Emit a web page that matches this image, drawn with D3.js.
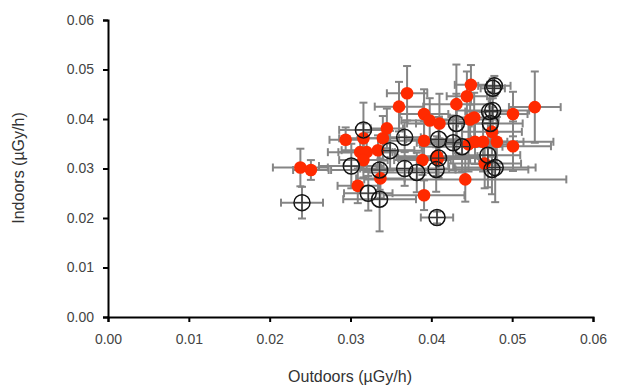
<!DOCTYPE html>
<html>
<head>
<meta charset="utf-8">
<script src="https://cdn.jsdelivr.net/npm/d3@7"></script>
<style>
  body { margin: 0; background: #fff; }
  svg text { font-family: "Liberation Sans", Arial, sans-serif; }
</style>
</head>
<body>
<div id="chart"></div>
<script>
// red series: outdoor, indoor, x error, y error
var redX    = [0.0238, 0.0251, 0.0294, 0.0309, 0.0316, 0.0312, 0.0320, 0.0316, 0.0334, 0.0337, 0.0340, 0.0345, 0.0360, 0.0370, 0.0391, 0.0398, 0.0410, 0.0391, 0.0407, 0.0408, 0.0389, 0.0391, 0.0431, 0.0444, 0.0449, 0.0448, 0.0453, 0.0442, 0.0446, 0.0454, 0.0464, 0.0466, 0.0475, 0.0481, 0.0501, 0.0501, 0.0528];
var redY    = [0.0302, 0.0297, 0.0358, 0.0265, 0.0361, 0.0333, 0.0333, 0.0317, 0.0337, 0.0280, 0.0361, 0.0381, 0.0425, 0.0452, 0.0410, 0.0397, 0.0391, 0.0356, 0.0325, 0.0319, 0.0317, 0.0246, 0.0430, 0.0446, 0.0469, 0.0399, 0.0403, 0.0278, 0.0349, 0.0354, 0.0354, 0.0310, 0.0374, 0.0354, 0.0410, 0.0345, 0.0424];
var redXErr = [0.0034, 0.0022, 0.0020, 0.0025, 0.0030, 0.0040, 0.0035, 0.0030, 0.0045, 0.0030, 0.0020, 0.0020, 0.0030, 0.0025, 0.0030, 0.0035, 0.0040, 0.0045, 0.0050, 0.0040, 0.0035, 0.0050, 0.0040, 0.0025, 0.0020, 0.0035, 0.0030, 0.0125, 0.0060, 0.0040, 0.0050, 0.0045, 0.0037, 0.0070, 0.0018, 0.0047, 0.0032];
var redYErr = [0.0038, 0.0020, 0.0025, 0.0035, 0.0030, 0.0030, 0.0040, 0.0035, 0.0030, 0.0040, 0.0045, 0.0040, 0.0050, 0.0055, 0.0050, 0.0045, 0.0060, 0.0040, 0.0040, 0.0035, 0.0030, 0.0030, 0.0080, 0.0050, 0.0040, 0.0045, 0.0050, 0.0045, 0.0055, 0.0045, 0.0060, 0.0050, 0.0050, 0.0050, 0.0045, 0.0050, 0.0072];

// open circle series
var blackX    = [0.0240, 0.0301, 0.0316, 0.0322, 0.0336, 0.0336, 0.0349, 0.0367, 0.0367, 0.0382, 0.0406, 0.0409, 0.0409, 0.0407, 0.0431, 0.0427, 0.0438, 0.0470, 0.0473, 0.0476, 0.0478, 0.0476, 0.0479, 0.0472, 0.0475];
var blackY    = [0.0231, 0.0305, 0.0378, 0.0250, 0.0238, 0.0297, 0.0336, 0.0363, 0.0300, 0.0292, 0.0298, 0.0359, 0.0321, 0.0201, 0.0391, 0.0352, 0.0344, 0.0327, 0.0391, 0.0417, 0.0467, 0.0462, 0.0302, 0.0415, 0.0298];
var blackXErr = [0.0026, 0.0040, 0.0030, 0.0030, 0.0045, 0.0060, 0.0040, 0.0020, 0.0055, 0.0060, 0.0070, 0.0040, 0.0050, 0.0020, 0.0050, 0.0045, 0.0050, 0.0040, 0.0040, 0.0045, 0.0020, 0.0015, 0.0050, 0.0030, 0.0045];
var blackYErr = [0.0032, 0.0045, 0.0055, 0.0035, 0.0065, 0.0040, 0.0040, 0.0030, 0.0035, 0.0040, 0.0045, 0.0045, 0.0040, 0.0012, 0.0060, 0.0055, 0.0050, 0.0065, 0.0050, 0.0050, 0.0020, 0.0020, 0.0070, 0.0040, 0.0050];

var xTicks = [0, 0.01, 0.02, 0.03, 0.04, 0.05, 0.06];
var yTicks = [0, 0.01, 0.02, 0.03, 0.04, 0.05, 0.06];

var width = 621, height = 386;
var x = d3.scaleLinear().domain([0, 0.06]).range([108, 593]);
var y = d3.scaleLinear().domain([0, 0.06]).range([317, 20]);

var svg = d3.select('#chart').append('svg')
    .attr('width', width)
    .attr('height', height);

function toRows(xs, ys, xe, ye) {
    return xs.map(function (v, i) { return { x: v, y: ys[i], xe: xe[i], ye: ye[i] }; });
}
var red = toRows(redX, redY, redXErr, redYErr);
var black = toRows(blackX, blackY, blackXErr, blackYErr);

// error bars
var cap = 4;
function drawErrors(g, rows) {
    rows.forEach(function (d) {
        var cx = x(d.x), cy = y(d.y);
        var x0 = x(d.x - d.xe), x1 = x(d.x + d.xe);
        var y0 = y(d.y - d.ye), y1 = y(d.y + d.ye);
        var segs = [
            [x0, cy, x1, cy], [cx, y0, cx, y1],
            [x0, cy - cap, x0, cy + cap], [x1, cy - cap, x1, cy + cap],
            [cx - cap, y0, cx + cap, y0], [cx - cap, y1, cx + cap, y1]
        ];
        segs.forEach(function (s) {
            g.append('line')
                .attr('x1', s[0]).attr('y1', s[1])
                .attr('x2', s[2]).attr('y2', s[3]);
        });
    });
}
var errG = svg.append('g')
    .attr('stroke', '#858585')
    .attr('stroke-width', 2);
drawErrors(errG, black);
drawErrors(errG, red);

// axes
var xAxis = svg.append('g')
    .attr('transform', 'translate(0,317)')
    .call(d3.axisBottom(x).tickValues(xTicks).tickFormat(d3.format('.2f')).tickSize(5).tickPadding(12));
var yAxis = svg.append('g')
    .attr('transform', 'translate(108,0)')
    .call(d3.axisLeft(y).tickValues(yTicks).tickFormat(d3.format('.2f')).tickSize(5).tickPadding(9));
[xAxis, yAxis].forEach(function (a) {
    a.select('.domain').attr('stroke', '#000').attr('stroke-width', 2);
    a.selectAll('.tick line').attr('stroke', '#000').attr('stroke-width', 2);
    a.selectAll('.tick text').attr('fill', '#444').attr('font-size', 14)
        .attr('font-family', '"Liberation Sans", Arial, sans-serif');
});

// markers
svg.append('g').selectAll('circle').data(red)
    .join('circle')
    .attr('cx', function (d) { return x(d.x); })
    .attr('cy', function (d) { return y(d.y); })
    .attr('r', 6.3)
    .attr('fill', '#ff2a00');

var bg = svg.append('g').selectAll('g').data(black)
    .join('g')
    .attr('transform', function (d) { return 'translate(' + x(d.x) + ',' + y(d.y) + ')'; });
bg.append('circle')
    .attr('r', 8)
    .attr('fill', 'none')
    .attr('stroke', '#111')
    .attr('stroke-width', 1.5);
bg.append('path')
    .attr('d', 'M-8,0H8M0,-8V8')
    .attr('stroke', '#333')
    .attr('stroke-width', 1.2);

// axis titles
svg.append('text')
    .attr('x', 350).attr('y', 382)
    .attr('text-anchor', 'middle')
    .attr('font-size', 16)
    .attr('fill', '#333')
    .text('Outdoors (µGy/h)');
svg.append('text')
    .attr('transform', 'translate(24,168) rotate(-90)')
    .attr('text-anchor', 'middle')
    .attr('font-size', 16)
    .attr('fill', '#333')
    .text('Indoors (µGy/h)');
</script>
</body>
</html>
